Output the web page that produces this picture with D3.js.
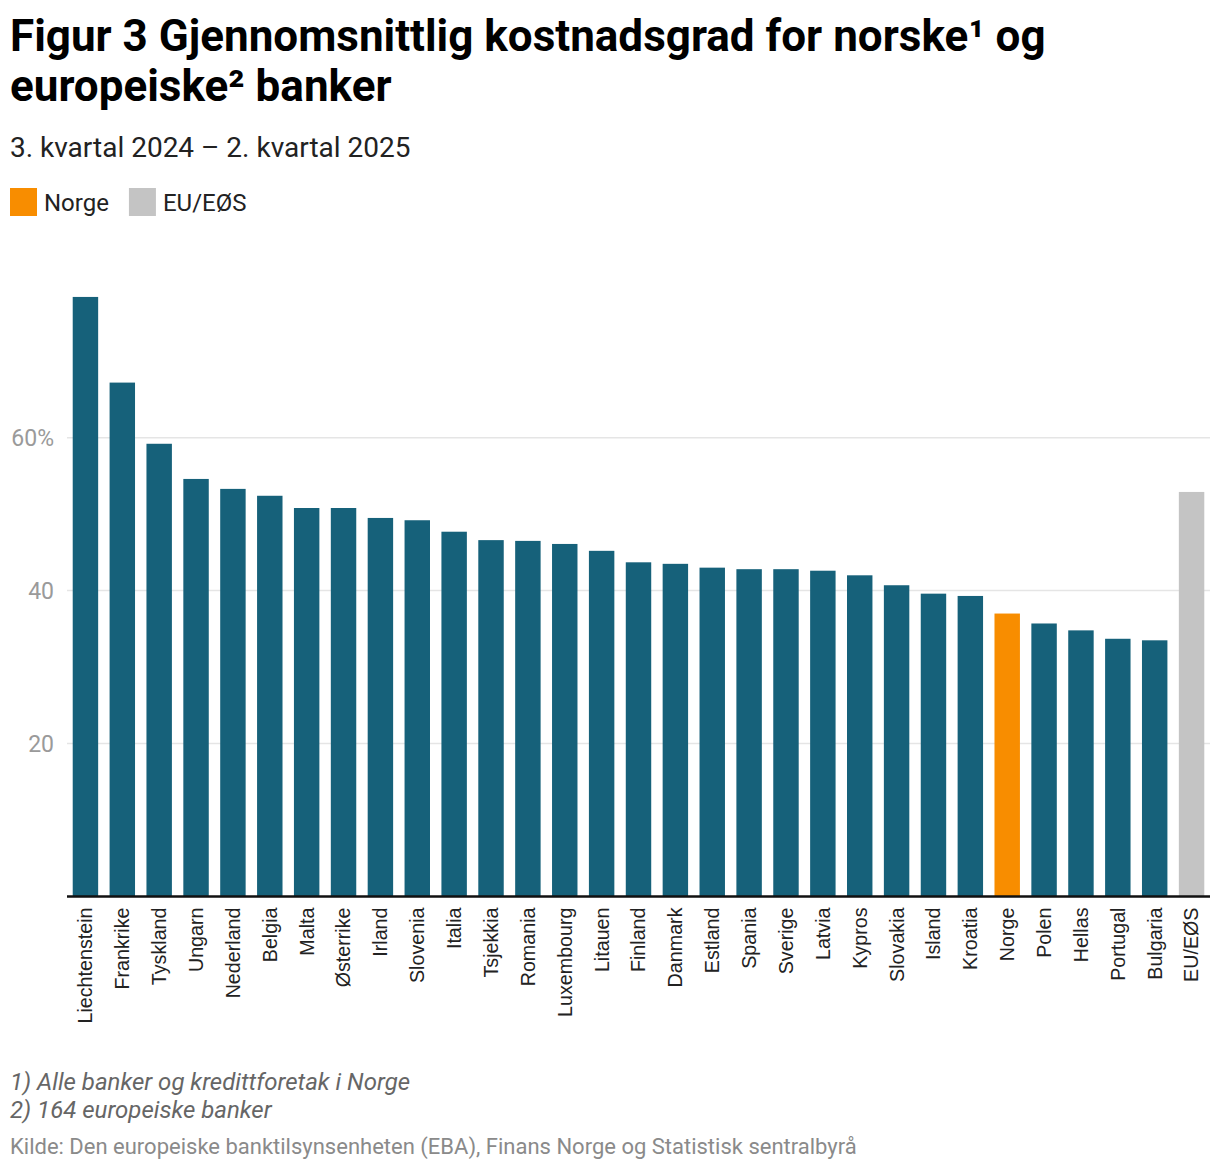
<!DOCTYPE html>
<html>
<head>
<meta charset="utf-8">
<script src="https://cdn.jsdelivr.net/npm/d3@7"></script>
<style>
  html, body { margin: 0; padding: 0; background: #fff; }
  svg { display: block; }
</style>
</head>
<body>
<svg id="chart" width="1220" height="1170"></svg>
<script>
const countries = ["Liechtenstein","Frankrike","Tyskland","Ungarn","Nederland","Belgia","Malta","Østerrike","Irland","Slovenia","Italia","Tsjekkia","Romania","Luxembourg","Litauen","Finland","Danmark","Estland","Spania","Sverige","Latvia","Kypros","Slovakia","Island","Kroatia","Norge","Polen","Hellas","Portugal","Bulgaria","EU/EØS"];
const costRatio = [78.4,67.2,59.2,54.6,53.3,52.4,50.8,50.8,49.5,49.2,47.7,46.6,46.5,46.1,45.2,43.7,43.5,43.0,42.8,42.8,42.6,42.0,40.7,39.6,39.3,37.0,35.7,34.8,33.7,33.5,52.9];
const yTicks = [20, 40, 60];
const legendItems = ["Norge", "EU/EØS"];
const titleLines = ["Figur 3 Gjennomsnittlig kostnadsgrad for norske¹ og", "europeiske² banker"];
const subtitle = "3. kvartal 2024 – 2. kvartal 2025";
const notes = ["1) Alle banker og kredittforetak i Norge", "2) 164 europeiske banker"];
const source = "Kilde: Den europeiske banktilsynsenheten (EBA), Finans Norge og Statistisk sentralbyrå";

const colorDefault = "#16617a", colorNorge = "#f88d00", colorEU = "#c4c4c4";
const colorFor = c => c === "Norge" ? colorNorge : (c === "EU/EØS" ? colorEU : colorDefault);

const svg = d3.select("#chart");
const font = "Roboto, 'Noto Sans', sans-serif";

// Title
svg.selectAll("text.title").data(titleLines).join("text")
  .attr("class", "title")
  .attr("x", 10).attr("y", (d, i) => 51 + i * 50)
  .attr("font-family", font).attr("font-weight", 700).attr("font-size", 44)
  .attr("fill", "#000").text(d => d);

svg.append("text").attr("x", 10).attr("y", 157)
  .attr("font-family", font).attr("font-size", 28).attr("fill", "#222").text(subtitle);

// Legend
const legend = svg.append("g").attr("transform", "translate(10,188)");
let lx = 0;
legendItems.forEach(name => {
  const g = legend.append("g").attr("transform", `translate(${lx},0)`);
  g.append("rect").attr("width", 27).attr("height", 28).attr("fill", colorFor(name));
  const t = g.append("text").attr("x", 34).attr("y", 22.5)
    .attr("font-family", font).attr("font-size", 24).attr("fill", "#222").text(name);
  lx += 34 + t.node().getComputedTextLength() + 20;
});

// Scales
const x = d3.scaleBand().domain(countries).range([67, 1210]).paddingInner(0.31).paddingOuter(0.155);
const y = d3.scaleLinear().domain([0, 80]).range([896.5, 284.7]);

// Grid
svg.append("g").selectAll("line").data(yTicks).join("line")
  .attr("x1", 67).attr("x2", 1210)
  .attr("y1", d => y(d)).attr("y2", d => y(d))
  .attr("stroke", "#e5e5e5").attr("stroke-width", 1.5);

// Y labels
svg.append("g").selectAll("text").data(yTicks).join("text")
  .attr("x", 54).attr("y", d => y(d)).attr("dy", "0.36em")
  .attr("text-anchor", "end")
  .attr("font-family", font).attr("font-size", 23).attr("fill", "#9a9a9a")
  .text((d, i) => i === yTicks.length - 1 ? d + "%" : d);

// Bars
svg.append("g").selectAll("rect").data(countries).join("rect")
  .attr("x", d => x(d)).attr("width", x.bandwidth())
  .attr("y", (d, i) => y(costRatio[i]))
  .attr("height", (d, i) => y(0) - y(costRatio[i]))
  .attr("fill", d => colorFor(d));

// X axis
const xAxis = svg.append("g").attr("transform", `translate(0,${y(0)})`)
  .call(d3.axisBottom(x).tickSize(0).tickPadding(0));
xAxis.select(".domain").attr("stroke", "#111").attr("stroke-width", 2.5).attr("d", "M67,0H1210");
xAxis.selectAll(".tick text")
  .attr("transform", "rotate(-90)")
  .attr("text-anchor", "end")
  .attr("x", -11).attr("y", 0).attr("dy", "0.35em")
  .attr("font-family", "'Liberation Sans', Arial, sans-serif")
  .attr("font-size", 19.7).attr("fill", "#222");

// Notes
svg.selectAll("text.note").data(notes).join("text")
  .attr("class", "note")
  .attr("x", 10).attr("y", (d, i) => 1090 + i * 28)
  .attr("font-family", font).attr("font-style", "italic").attr("font-size", 24)
  .attr("fill", "#666").text(d => d);

svg.append("text").attr("x", 10).attr("y", 1154)
  .attr("font-family", font).attr("font-size", 22).attr("fill", "#8a8a8a").text(source);
</script>
</body>
</html>
